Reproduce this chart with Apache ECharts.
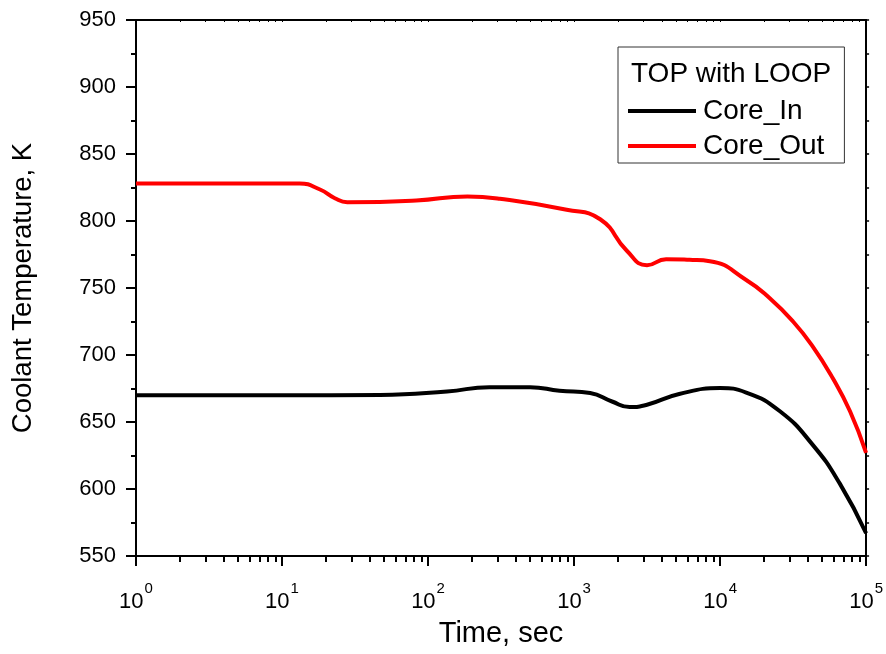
<!DOCTYPE html>
<html>
<head>
<meta charset="utf-8">
<title>Coolant Temperature vs Time</title>
<script src="https://cdn.jsdelivr.net/npm/echarts@6/dist/echarts.min.js"></script>
<style>
  html, body { margin: 0; padding: 0; background: #fff; }
  #chart { width: 886px; height: 654px; }
</style>
</head>
<body>
<div id="chart"></div>
<script>
// Core inlet temperature (K) versus time (s)
const timeCoreIn = [1, 10, 47, 135, 263, 500, 795, 1290, 1820, 2400, 3160, 5250, 10000, 15100, 25700, 42700, 66100, 100000];
const coreIn = [670, 670, 670.2, 672.8, 676, 676, 673.3, 671.6, 665.3, 661.2, 662.9, 670.9, 675.3, 672, 658, 633.5, 604, 567];

// Core outlet temperature (K) versus time (s)
const timeCoreOut = [1, 10, 13.2, 18.2, 23, 28, 83, 186, 310, 890, 1510, 2290, 3160, 4270, 6170, 8510, 15100, 21900, 31600, 42700, 58900, 77600, 100000];
const coreOut = [828, 828, 828, 823.5, 817, 814, 815.3, 818.3, 816.6, 808.4, 801.3, 778, 767, 771.5, 771, 770, 756, 742.3, 725, 707, 683, 658, 627];

// Axis ticks
const decadeTicks = [1, 10, 100, 1000, 10000, 100000];
const yTicks = [550, 600, 650, 700, 750, 800, 850, 900, 950];

const minorTicks = [];
for (let i = 0; i < decadeTicks.length - 1; i++) {
  for (let k = 2; k <= 9; k++) minorTicks.push(k * decadeTicks[i]);
}

const FONT = '"Liberation Sans", Arial, sans-serif';
const pairs = (xs, ys) => xs.map((x, i) => [x, ys[i]]);

const chart = echarts.init(document.getElementById('chart'), null, { renderer: 'canvas' });

const axisLine = { show: true, lineStyle: { color: '#000', width: 2 } };

chart.setOption({
  animation: false,
  backgroundColor: '#fff',
  grid: { left: 136, right: 19, top: 20, bottom: 98, containLabel: false },
  title: {
    text: 'TOP with LOOP',
    left: 631, top: 60,
    padding: 0,
    textStyle: { fontFamily: FONT, fontSize: 28, fontWeight: 'normal', color: '#000' }
  },
  legend: {
    orient: 'vertical',
    left: 618, top: 47,
    padding: [50, 20, 3, 10],
    borderColor: '#333', borderWidth: 1,
    itemWidth: 68, itemHeight: 4, itemGap: 7,
    textStyle: { fontFamily: FONT, fontSize: 28, color: '#000', lineHeight: 28, padding: [0, 0, 0, 2] },
    data: [
      { name: 'Core_In', icon: 'rect' },
      { name: 'Core_Out', icon: 'rect' }
    ]
  },
  xAxis: [
    {
      type: 'log', logBase: 10, min: 1, max: 100000,
      position: 'bottom',
      name: 'Time, sec', nameLocation: 'middle', nameGap: 63,
      nameTextStyle: { fontFamily: FONT, fontSize: 29, color: '#000' },
      axisLine: axisLine,
      axisTick: { show: true, length: 10, customValues: decadeTicks, lineStyle: { color: '#000', width: 2 } },
      axisLabel: {
        customValues: decadeTicks, margin: 25,
        formatter: v => '{b|10}{e|' + Math.round(Math.log10(v)) + '}',
        rich: {
          b: { fontFamily: FONT, fontSize: 22, color: '#000', lineHeight: 32, verticalAlign: 'bottom' },
          e: { fontFamily: FONT, fontSize: 15, color: '#000', lineHeight: 16, verticalAlign: 'top', padding: [0, 0, 0, 1] }
        }
      },
      splitLine: { show: false }
    },
    {
      type: 'log', logBase: 10, min: 1, max: 100000,
      position: 'bottom',
      axisLine: { show: false },
      axisTick: { show: true, length: 6, customValues: minorTicks, lineStyle: { color: '#000', width: 2 } },
      axisLabel: { show: false },
      splitLine: { show: false }
    },
    {
      type: 'log', logBase: 10, min: 1, max: 100000,
      position: 'top',
      axisLine: axisLine,
      axisTick: { show: true, inside: true, length: 2, customValues: decadeTicks.concat(minorTicks), lineStyle: { color: '#000', width: 1 } },
      axisLabel: { show: false },
      splitLine: { show: false }
    }
  ],
  yAxis: [
    {
      type: 'value', min: 550, max: 950, interval: 50,
      position: 'left',
      name: 'Coolant Temperature, K', nameLocation: 'middle', nameGap: 99,
      nameTextStyle: { fontFamily: FONT, fontSize: 27.5, color: '#000' },
      axisLine: axisLine,
      axisTick: { show: true, length: 10, lineStyle: { color: '#000', width: 2 } },
      minorTick: { show: true, splitNumber: 2, length: 5, lineStyle: { color: '#000', width: 2 } },
      axisLabel: {
        margin: 20, fontFamily: FONT, fontSize: 22, color: '#000',
        customValues: yTicks
      },
      splitLine: { show: false }
    },
    {
      type: 'value', min: 550, max: 950, interval: 25,
      position: 'right',
      axisLine: axisLine,
      axisTick: { show: true, length: 3, lineStyle: { color: '#000', width: 1.5 } },
      axisLabel: { show: false },
      splitLine: { show: false }
    }
  ],
  series: [
    {
      name: 'Core_In', type: 'line', xAxisIndex: 0, yAxisIndex: 0,
      data: pairs(timeCoreIn, coreIn),
      symbol: 'none', smooth: 0.5,
      lineStyle: { color: '#000', width: 4 },
      itemStyle: { color: '#000' }
    },
    {
      name: 'Core_Out', type: 'line', xAxisIndex: 0, yAxisIndex: 0,
      data: pairs(timeCoreOut, coreOut),
      symbol: 'none', smooth: 0.5,
      lineStyle: { color: '#ff0000', width: 4 },
      itemStyle: { color: '#ff0000' }
    }
  ]
});
</script>
</body>
</html>
